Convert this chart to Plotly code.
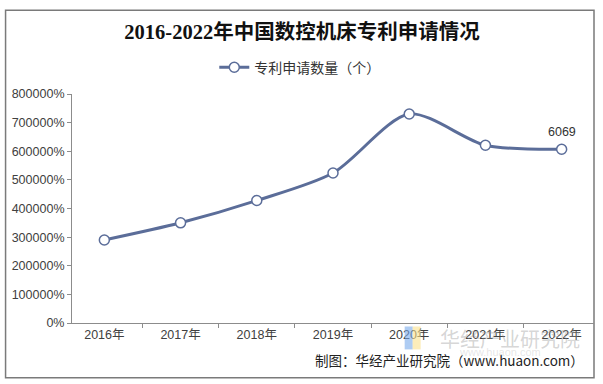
import plotly.graph_objects as go

years = ["2016年", "2017年", "2018年", "2019年", "2020年", "2021年", "2022年"]
applications = [2900, 3500, 4280, 5240, 7300, 6210, 6069]
series_name = "专利申请数量（个）"
title_text = "2016-2022年中国数控机床专利申请情况"
source_text = "制图：华经产业研究院（www.huaon.com）"

line_color = "#5b6d99"
L, R, T, B = 72, 594.5, 93.5, 323.5
PW, PH = R - L, B - T

fig = go.Figure()
fig.add_trace(go.Scatter(
    x=years, y=applications, name=series_name,
    mode="lines+markers",
    line=dict(color=line_color, width=3, shape="spline", smoothing=0.8),
    marker=dict(size=10, color="white", line=dict(color=line_color, width=1.5)),
    cliponaxis=False,
))

fig.update_layout(
    width=603, height=384,
    margin=dict(l=L, r=603 - R, t=T, b=384 - B, autoexpand=False),
    paper_bgcolor="white", plot_bgcolor="white",
    title=dict(text="<b>" + title_text + "</b>", x=302/603, xanchor="center", y=1 - 32/384, yanchor="middle",
               font=dict(family="Liberation Serif, Noto Sans CJK SC", size=20.5, color="#111111")),
    legend=dict(orientation="h", x=(300 - L)/PW, xanchor="center", y=(B - 67)/PH, yanchor="middle",
                font=dict(family="Noto Sans CJK SC", size=14, color="#333333"),
                itemwidth=30, bgcolor="rgba(0,0,0,0)"),
    showlegend=True,
    xaxis=dict(showline=True, linecolor="#8c8c8c", linewidth=1, ticks="outside", tickson="boundaries",
               ticklen=4, tickcolor="#8c8c8c", showgrid=False,
               tickfont=dict(family="Arial, Liberation Sans, Noto Sans CJK SC", size=12.5, color="#404040")),
    yaxis=dict(range=[0, 8000], dtick=1000, tickformat=".0%", showline=True, linecolor="#8c8c8c",
               linewidth=1, ticks="outside", ticklen=4, tickcolor="#8c8c8c", showgrid=False,
               zeroline=False,
               tickfont=dict(family="Arial, Liberation Sans", size=12.5, color="#404040")),
    shapes=[
        dict(type="rect", xref="paper", yref="paper", x0=(5.5 - L)/PW, x1=1.0, y0=-(378.5 - B)/PH,
             y1=(B - 9.5)/PH, line=dict(color="#7a7a7a", width=1.5), fillcolor="rgba(0,0,0,0)", layer="below"),
        dict(type="rect", xref="paper", yref="paper", x0=(405 - L)/PW, x1=(413 - L)/PW,
             y0=-(350 - B)/PH, y1=-(327 - B)/PH, line=dict(width=0), fillcolor="rgba(120,170,235,0.6)"),
        dict(type="rect", xref="paper", yref="paper", x0=(413 - L)/PW, x1=(421 - L)/PW,
             y0=-(350 - B)/PH, y1=-(327 - B)/PH, line=dict(width=0), fillcolor="rgba(250,225,140,0.6)"),
    ],
    annotations=[
        dict(text=str(applications[-1]), x=years[-1], y=applications[-1], xref="x", yref="y",
             showarrow=False, yshift=17, xanchor="center", yanchor="middle",
             font=dict(family="Arial, Liberation Sans", size=12.5, color="#333333")),
        dict(text=source_text, xref="paper", yref="paper", x=(586 - L)/PW, y=-(361 - B)/PH,
             xanchor="right", yanchor="middle", showarrow=False,
             font=dict(family="Noto Sans CJK SC", size=13.5, color="#222222")),
        dict(text="华经产业研究院", xref="paper", yref="paper", x=(510 - L)/PW, y=-(339 - B)/PH,
             xanchor="center", yanchor="middle", showarrow=False,
             font=dict(family="Noto Sans CJK SC", size=20, color="rgba(150,150,150,0.4)")),
        dict(text="www.huaon.com", xref="paper", yref="paper", x=(500 - L)/PW, y=-(353 - B)/PH,
             xanchor="center", yanchor="middle", showarrow=False,
             font=dict(family="Arial", size=11, color="rgba(170,170,170,0.3)")),
    ],
)

fig.write_html("out.html", config={"displayModeBar": False},
               post_script="document.body.style.margin='0';document.body.style.overflow='hidden';")
